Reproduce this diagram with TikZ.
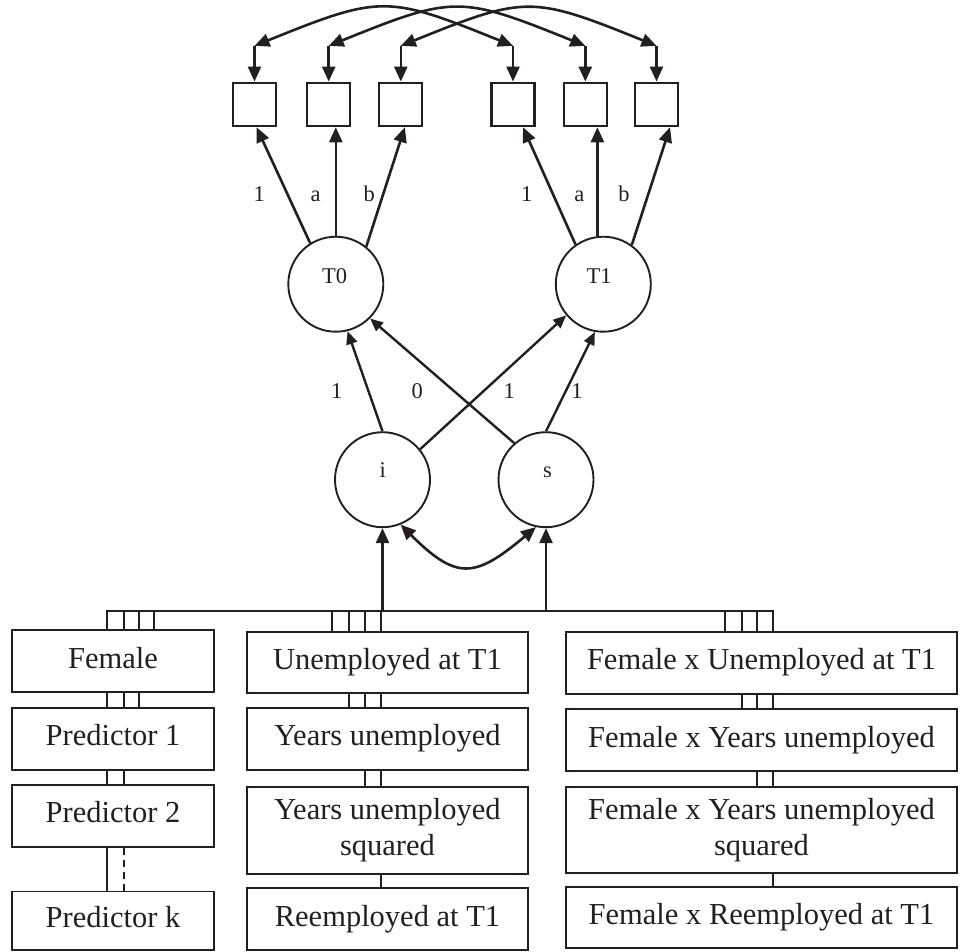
\documentclass[tikz,border=0pt]{standalone}
\usepackage{fontspec}
\setmainfont{Liberation Serif}
\usetikzlibrary{arrows.meta}
\definecolor{ink}{HTML}{231F20}
\begin{document}
\begin{tikzpicture}[x=1pt,y=-1pt,color=ink,
  sq/.style={draw, line width=2.2pt, minimum width=43pt, minimum height=43.5pt, inner sep=0pt},
  circ/.style={draw, circle, line width=1.9pt, minimum size=95pt, inner sep=0pt},
  box/.style={draw, line width=1.8pt, inner sep=0pt, align=center, font=\fontsize{30.5}{36.6}\selectfont},
  one/.style={text height=20.7pt, text depth=6.7pt},
  lab/.style={inner sep=0pt, anchor=base, font=\fontsize{22.5}{27}\selectfont},
  arr/.style={line width=2.6pt, -{Triangle[length=15pt,width=13pt]}},
  sarr/.style={line width=2.4pt, -{Triangle[length=13pt,width=11pt]}},
  dbl/.style={line width=2.6pt, {Triangle[length=15pt,width=13pt]}-{Triangle[length=15pt,width=13pt]}},
  tick/.style={line width=2.3pt},
  dtick/.style={line width=1.6pt, dash pattern=on 7pt off 5pt}]
\useasboundingbox (0,0) rectangle (960,951);

% indicator squares
\node[sq] (s1) at (254.5,104.4) {};
\node[sq] (s2) at (328.7,104.4) {};
\node[sq] (s3) at (400.8,104.4) {};
\node[sq] (s4) at (513,104.4) {};
\node[sq] (s5) at (585.3,104.4) {};
\node[sq] (s6) at (656.5,104.4) {};
\foreach \k in {1,...,6} {
  \coordinate (t\k) at ([yshift=35.7pt]s\k.north);
  \draw[arr] (t\k) -- (s\k.north);
}
\draw[dbl] (t1) to[out=22,in=158,looseness=1.35] (t4);
\draw[dbl] (t2) to[out=22,in=158,looseness=1.35] (t5);
\draw[dbl] (t3) to[out=22,in=158,looseness=1.35] (t6);

% latent circles
\node[circ] (T0) at (335.8,284.2) {};
\node[circ] (T1) at (603.3,284.2) {};
\node[circ] (I) at (382.5,479.7) {};
\node[circ] (S) at (546,479.7) {};
\node[lab] (T0t) at (334.7,283.3) {T0};
\node[lab] (T1t) at (599,283.3) {T1};
\node[lab] (It) at (382.7,477.7) {i};
\node[lab] (St) at (547.5,477.7) {s};

% loadings
\draw[arr] (T0.122) -- ([xshift=2pt]s1.south);
\draw[arr] (T0.north) -- (T0.north |- s2.south);
\draw[arr] (T0.51) -- ([xshift=4pt]s3.south);
\draw[arr] (T1.125) -- ([xshift=10pt]s4.south);
\draw[arr] (T1.97) -- (T1.97 |- s5.south);
\draw[arr] (T1.54) -- ([xshift=13.5pt]s6.south);
\node[lab] (la1) at (259.3,201) {1};
\node[lab] (la2) at (315.7,201) {a};
\node[lab] (la3) at (369.3,201) {b};
\node[lab] (lb1) at (526.7,201) {1};
\node[lab] (lb2) at (579.3,201) {a};
\node[lab] (lb3) at (624,201) {b};

% growth factors
\draw[sarr] (I.north) -- (T0.-76);
\draw[sarr] (I.39) -- (T1.-140);
\draw[sarr] (S.131) -- (T0.-45);
\draw[sarr] (S.north) -- (T1.-100);
\node[lab] (m1) at (336.7,398) {1};
\node[lab] (m2) at (417.3,398) {0};
\node[lab] (m3) at (509.3,398) {1};
\node[lab] (m4) at (577,398) {1};
\draw[dbl] (I.-68) to[out=-45,in=-140,looseness=1.5] (S.-102);

% predictor boxes
\node[box,one,minimum width=202.6pt,minimum height=62.3pt] (fem) at (113,661.2) {Female};
\node[box,one,minimum width=202.6pt,minimum height=62.3pt] (p1) at (113,738.8) {Predictor 1};
\node[box,one,minimum width=202.6pt,minimum height=61.7pt] (p2) at (113,815.8) {Predictor 2};
\node[box,one,minimum width=202.6pt,minimum height=58.3pt] (pk) at (113,920.6) {Predictor k};
\node[box,one,minimum width=281.6pt,minimum height=61.6pt] (un) at (387.5,662.5) {Unemployed at T1};
\node[box,one,minimum width=281.6pt,minimum height=62.3pt] (yu) at (387.5,738.8) {Years unemployed};
\node[box,minimum width=281.6pt,minimum height=87.3pt] (ys) at (387.5,830.3) {Years unemployed\\squared};
\node[box,one,minimum width=281.6pt,minimum height=61.7pt] (re) at (387.5,919.2) {Reemployed at T1};
\node[box,one,minimum width=391pt,minimum height=62.3pt] (fu) at (761.5,662.8) {Female x Unemployed at T1};
\node[box,one,minimum width=391pt,minimum height=61.7pt] (fy) at (761.5,740.1) {Female x Years unemployed};
\node[box,minimum width=391pt,minimum height=86.6pt] (fs) at (761.5,830) {Female x Years unemployed\\squared};
\node[box,one,minimum width=391pt,minimum height=61.6pt] (fr) at (761.5,917.5) {Female x Reemployed at T1};

% bus and ticks
\coordinate (busL) at (106.7,611);
\coordinate (busR) at (772.7,611);
\draw[tick] (busL |- fem.north) -- (busL) -- (busR) -- (busR |- fu.north);
\draw[arr] (I.south |- busL) -- (I.south);
\draw[arr] (S.south |- busL) -- (S.south);

\foreach \x in {124,138.7,154.3} \draw[tick] (\x,0 |- busL) -- (\x,0 |- fem.north);
\foreach \x in {106.7,124,138.7} \draw[tick] (\x,0 |- fem.south) -- (\x,0 |- p1.north);
\foreach \x in {106.7,124} \draw[tick] (\x,0 |- p1.south) -- (\x,0 |- p2.north);
\draw[tick] (106.7,0 |- p2.south) -- (106.7,0 |- pk.north);
\draw[dtick] (124,0 |- p2.south) -- (124,0 |- pk.north);

\foreach \x in {331.7,349,365,380.7} \draw[tick] (\x,0 |- busL) -- (\x,0 |- un.north);
\foreach \x in {349,365,380.7} \draw[tick] (\x,0 |- un.south) -- (\x,0 |- yu.north);
\foreach \x in {365,380.7} \draw[tick] (\x,0 |- yu.south) -- (\x,0 |- ys.north);
\draw[tick] (380.7,0 |- ys.south) -- (380.7,0 |- re.north);

\foreach \x in {725,741.7,756.7} \draw[tick] (\x,0 |- busL) -- (\x,0 |- fu.north);
\foreach \x in {741.7,756.7,772.7} \draw[tick] (\x,0 |- fu.south) -- (\x,0 |- fy.north);
\foreach \x in {756.7,772.7} \draw[tick] (\x,0 |- fy.south) -- (\x,0 |- fs.north);
\draw[tick] (772.7,0 |- fs.south) -- (772.7,0 |- fr.north);
\end{tikzpicture}
\end{document}
